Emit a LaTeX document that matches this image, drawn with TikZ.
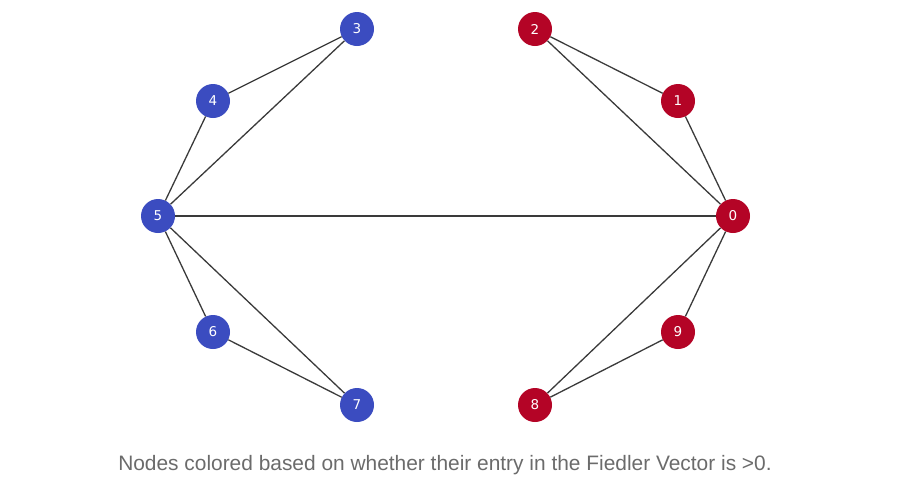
\documentclass[tikz,border=0pt]{standalone}
\usepackage{fontspec}
\setmainfont{DejaVu Sans}
\newfontfamily\captionfont{Liberation Sans}
\usepackage{tikz}
\usetikzlibrary{positioning}
\definecolor{negblue}{HTML}{3B4CC0}
\definecolor{posred}{HTML}{B40426}
\definecolor{edgegray}{HTML}{3A3A3A}
\definecolor{captiongray}{HTML}{6B6B6B}
\tikzset{
  vertex/.style={circle, minimum size=34pt, inner sep=0pt, text=white, font=\fontsize{13.5}{13.5}\selectfont},
  bluevertex/.style={vertex, fill=negblue},
  redvertex/.style={vertex, fill=posred},
  link/.style={edgegray, line width=1.3pt}
}

\begin{document}
\begin{tikzpicture}[x=1pt,y=-1pt]
\useasboundingbox (0,0) rectangle (899,491);
\node[bluevertex] (n3) at (357,29) {3};
\node[redvertex] (n2) at (535,29) {2};
\node[bluevertex] (n4) at (213,101) {4};
\node[redvertex] (n1) at (678,101) {1};
\node[bluevertex] (n5) at (158,216) {5};
\node[redvertex] (n0) at (733,216) {0};
\node[bluevertex] (n6) at (213,332) {6};
\node[redvertex] (n9) at (678,332) {9};
\node[bluevertex] (n7) at (357,405) {7};
\node[redvertex] (n8) at (535,405) {8};
% edges
\draw[link] (n3) -- (n4);
\draw[link] (n3) -- (n5);
\draw[link] (n4) -- (n5);
\draw[link] (n5) -- (n0);
\draw[link] (n5) -- (n6);
\draw[link] (n5) -- (n7);
\draw[link] (n6) -- (n7);
\draw[link] (n2) -- (n1);
\draw[link] (n2) -- (n0);
\draw[link] (n1) -- (n0);
\draw[link] (n0) -- (n9);
\draw[link] (n0) -- (n8);
\draw[link] (n9) -- (n8);
\node[text=captiongray, font=\captionfont\fontsize{20.9}{20.9}\selectfont] (caption) at (445,465) {Nodes colored based on whether their entry in the Fiedler Vector is >0.};
\end{tikzpicture}
\end{document}
